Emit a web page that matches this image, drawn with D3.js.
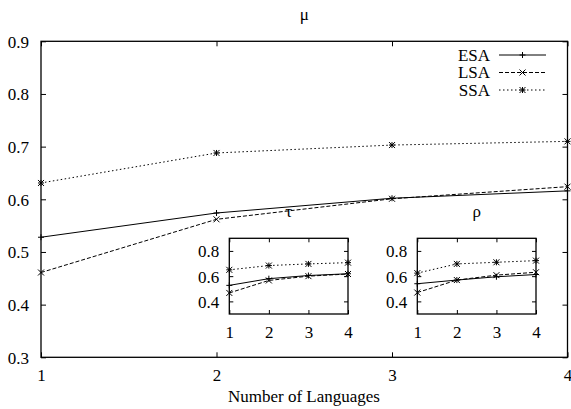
<!DOCTYPE html>
<html>
<head>
<meta charset="utf-8">
<script src="https://cdn.jsdelivr.net/npm/d3@7"></script>
<style>
body { margin: 0; background: white; }
svg, svg text { font-family: 'Liberation Serif', 'Times New Roman', serif !important; }
</style>
</head>
<body>
<script>
// values
const languages = [1, 2, 3, 4];
const muESA  = [0.528, 0.574, 0.602, 0.616];
const muLSA  = [0.461, 0.562, 0.601, 0.624];
const muSSA  = [0.631, 0.688, 0.703, 0.710];
const tauESA = [0.527, 0.580, 0.605, 0.619];
const tauLSA = [0.467, 0.566, 0.600, 0.617];
const tauSSA = [0.650, 0.684, 0.697, 0.707];
const rhoESA = [0.540, 0.569, 0.595, 0.613];
const rhoLSA = [0.470, 0.569, 0.608, 0.631];
const rhoSSA = [0.624, 0.697, 0.710, 0.723];
const mainYTicks = [0.3, 0.4, 0.5, 0.6, 0.7, 0.8, 0.9];
const insetYTicks = [0.4, 0.6, 0.8];
const seriesNames = ["ESA", "LSA", "SSA"];

const FS = 17;

const styles = {
  ESA: {dash: null, mark: "plus"},
  LSA: {dash: "4,2", mark: "cross"},
  SSA: {dash: "1.5,2.5", mark: "star"}
};

const svg = d3.select("body").append("svg")
  .attr("width", 571).attr("height", 409);

function markPath(kind, s) {
  const plus = `M${-s},0H${s}M0,${-s}V${s}`;
  const cross = `M${-s},${-s}L${s},${s}M${-s},${s}L${s},${-s}`;
  if (kind === "plus") return plus;
  if (kind === "cross") return cross;
  return plus + cross;
}

function drawSeries(g, x, y, values, name, ms) {
  const st = styles[name];
  const pts = languages.map((l, i) => [l, values[i]]);
  const line = d3.line().x(d => x(d[0])).y(d => y(d[1]));
  g.append("path").datum(pts)
    .attr("fill", "none").attr("stroke", "black").attr("stroke-width", 1)
    .attr("stroke-dasharray", st.dash)
    .attr("d", line);
  g.selectAll(null).data(pts).enter().append("path")
    .attr("transform", d => `translate(${x(d[0])},${y(d[1])})`)
    .attr("d", markPath(st.mark, ms))
    .attr("fill", "none").attr("stroke", "black").attr("stroke-width", 1);
}

function panel(box, yTicks, tickLen, title, titleY, data, ms) {
  const x = d3.scaleLinear().domain([1, 4]).range([box.x0, box.x1]);
  const y = d3.scaleLinear().domain([0.3, 0.9]).range([box.y1, box.y0]);
  const g = svg.append("g");
  g.append("rect")
    .attr("x", box.x0).attr("y", box.y0)
    .attr("width", box.x1 - box.x0).attr("height", box.y1 - box.y0)
    .attr("fill", "white");

  // ticks on all four sides, pointing inward; labels only bottom and left
  const ax = [
    [d3.axisBottom(x).tickValues(languages).tickFormat(d3.format("d")), `translate(0,${box.y1})`],
    [d3.axisTop(x).tickValues(languages).tickFormat(""), `translate(0,${box.y0})`],
    [d3.axisLeft(y).tickValues(yTicks).tickFormat(d3.format(".1f")), `translate(${box.x0},0)`],
    [d3.axisRight(y).tickValues(yTicks).tickFormat(""), `translate(${box.x1},0)`]
  ];
  ax.forEach(([a, tr], k) => {
    const ag = g.append("g").attr("transform", tr)
      .call(a.tickSize(-tickLen).tickSizeOuter(0));
    ag.attr("font-family", null).attr("font-size", FS);
    ag.select(".domain").remove();
    ag.selectAll("line").attr("stroke", "black");
    ag.selectAll("text").attr("fill", "black");
    if (k === 0) ag.selectAll("text").attr("y", box.xLabelGap).attr("dy", "0.71em");
    if (k === 2) ag.selectAll("text").attr("x", -box.labelGap).attr("dy", "0.35em");
  });

  data.forEach((vals, i) => drawSeries(g, x, y, vals, seriesNames[i], ms));

  g.append("rect")
    .attr("x", box.x0).attr("y", box.y0)
    .attr("width", box.x1 - box.x0).attr("height", box.y1 - box.y0)
    .attr("fill", "none").attr("stroke", "black").attr("stroke-width", 1.3);

  g.append("text").attr("x", (box.x0 + box.x1) / 2).attr("y", titleY)
    .attr("text-anchor", "middle").attr("font-size", FS).attr("fill", "black").text(title);
  return g;
}

panel({x0: 41, x1: 567.5, y0: 41.3, y1: 357.3, labelGap: 12, xLabelGap: 12},
  mainYTicks, 5, "\u03bc", 20, [muESA, muLSA, muSSA], 3);

// legend
const legend = svg.append("g");
seriesNames.forEach((name, i) => {
  const yy = 55 + i * 17.5;
  legend.append("text").attr("x", 490).attr("y", yy).attr("dy", "0.35em")
    .attr("text-anchor", "end").attr("font-size", FS).attr("fill", "black").text(name);
  const lx = d3.scaleLinear().domain([0, 1]).range([499, 546]);
  legend.append("path").datum([0, 1])
    .attr("d", d3.line().x(d => lx(d)).y(() => yy))
    .attr("stroke", "black").attr("fill", "none")
    .attr("stroke-dasharray", styles[name].dash);
  legend.append("path")
    .attr("transform", `translate(${lx(0.5)},${yy})`)
    .attr("d", markPath(styles[name].mark, 3))
    .attr("stroke", "black").attr("fill", "none");
});

panel({x0: 229.3, x1: 348, y0: 238.3, y1: 314, labelGap: 10, xLabelGap: 11.5},
  insetYTicks, 4, "\u03c4", 217, [tauESA, tauLSA, tauSSA], 3);
panel({x0: 417.3, x1: 536, y0: 238.3, y1: 314, labelGap: 10, xLabelGap: 11.5},
  insetYTicks, 4, "\u03c1", 217, [rhoESA, rhoLSA, rhoSSA], 3);

svg.append("text").attr("x", 304).attr("y", 402)
  .attr("text-anchor", "middle").attr("font-size", FS).attr("fill", "black")
  .text("Number of Languages");
</script>
</body>
</html>
